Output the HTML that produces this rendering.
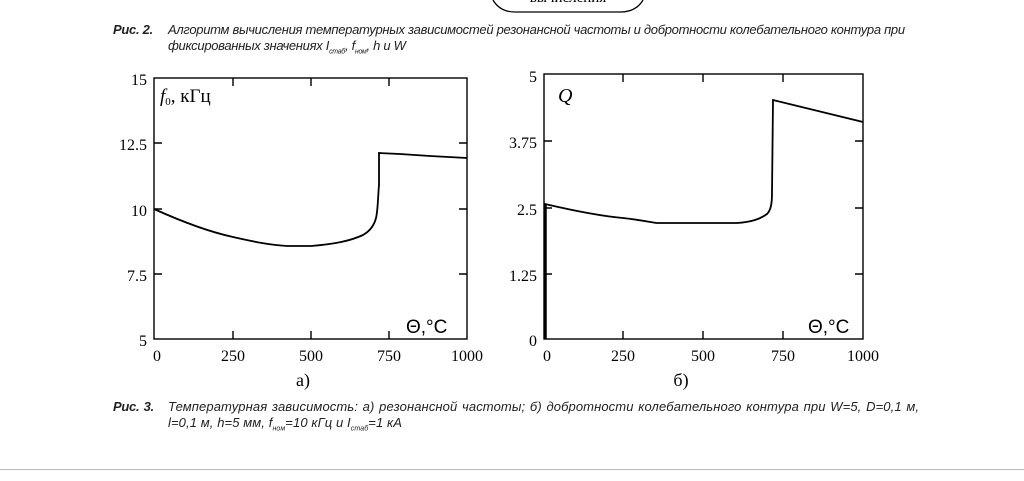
<!DOCTYPE html>
<html><head><meta charset="utf-8"><style>
body{margin:0;background:#fff;width:1024px;height:481px;overflow:hidden;position:relative}
.cap{position:absolute;font-family:"Liberation Sans",sans-serif;font-style:italic;font-size:13px;color:#222;letter-spacing:-0.3px;white-space:nowrap}
.cap b{font-weight:bold;position:absolute;left:-55px;letter-spacing:-0.3px}
</style></head><body>
<svg width="1024" height="481" style="position:absolute;left:0;top:0" font-family="Liberation Serif, serif">
<path d="M493,0 Q500,12 515,12 L620,12 Q636,12 643,0" fill="none" stroke="#000" stroke-width="1.3"/>
<text x="568" y="2" font-size="15" text-anchor="middle">вычисления</text>
<g stroke="#000" stroke-width="1.4" fill="none">
<rect x="154" y="78" width="313" height="261"/>
<path d="M233,78v8M311,78v8M389,78v8M233,339v-8M311,339v-8M389,339v-8M154,143h8M154,209h8M154,274h8M467,143h-8M467,209h-8M467,274h-8"/>
<path d="M154,209 C185,223 210,232 233,237 C255,242 270,245 287,246 L311,246 C335,244 350,241 363,235 C370,231 374,226 376,218 C378,210 378,195 379,185 L379,153 L400,154 L430,156 L467,158" stroke-width="1.8"/>
</g>
<g font-size="16" text-anchor="end">
<text x="147" y="85">15</text><text x="147" y="150">12.5</text><text x="147" y="216">10</text><text x="147" y="281">7.5</text><text x="147" y="346">5</text>
</g>
<g font-size="16" text-anchor="middle">
<text x="157" y="361">0</text><text x="233" y="361">250</text><text x="311" y="361">500</text><text x="389" y="361">750</text><text x="467" y="361">1000</text>
<text x="303" y="386" font-size="18">а)</text>
</g>
<text x="160" y="102" font-size="19"><tspan font-style="italic">f</tspan><tspan font-size="11" dy="3">0</tspan><tspan dy="-3">, кГц</tspan></text>
<text x="406" y="333" font-size="19" font-family="Liberation Sans, sans-serif">Θ,°C</text>
<g stroke="#000" stroke-width="1.4" fill="none">
<rect x="544" y="74" width="319" height="265"/>
<path d="M623,74v8M703,74v8M783,74v8M623,339v-8M703,339v-8M783,339v-8M544,141h8M544,208h8M544,274h8M863,141h-8M863,208h-8M863,274h-8"/>
<path d="M545,339 L545,204 C575,211 600,216 623,218 C640,220 650,222 657,223 L737,223 C752,222 760,219 767,214 C771,210 772,203 772,193 L773,100 L863,122" stroke-width="1.8"/>
<path d="M545.5,339V205" stroke-width="2.5"/>
</g>
<g font-size="16" text-anchor="end">
<text x="537" y="82">5</text><text x="537" y="148">3.75</text><text x="537" y="215">2.5</text><text x="537" y="281">1.25</text><text x="537" y="346">0</text>
</g>
<g font-size="16" text-anchor="middle">
<text x="547" y="361">0</text><text x="623" y="361">250</text><text x="703" y="361">500</text><text x="783" y="361">750</text><text x="863" y="361">1000</text>
<text x="681" y="386" font-size="18">б)</text>
</g>
<text x="558" y="102" font-size="20" font-style="italic">Q</text>
<text x="808" y="333" font-size="19" font-family="Liberation Sans, sans-serif">Θ,°C</text>
<line x1="0" y1="469.5" x2="1024" y2="469.5" stroke="#bbb" stroke-width="1"/>
</svg>
<div class="cap" style="left:168px;top:22px"><b>Рис. 2.</b>Алгоритм вычисления температурных зависимостей резонансной частоты и добротности колебательного контура при</div>
<div class="cap" style="left:168px;top:38px">фиксированных значениях I<sub style="font-size:7px">стаб</sub>, f<sub style="font-size:7px">ном</sub>, h и W</div>
<div class="cap" style="left:168px;top:399px;letter-spacing:0.1px;word-spacing:1px"><b>Рис. 3.</b>Температурная зависимость: а) резонансной частоты; б) добротности колебательного контура при W=5, D=0,1 м,</div>
<div class="cap" style="left:168px;top:415px;letter-spacing:0.1px">l=0,1 м, h=5 мм, f<sub style="font-size:7px">ном</sub>=10 кГц и I<sub style="font-size:7px">стаб</sub>=1 кА</div>
</body></html>
